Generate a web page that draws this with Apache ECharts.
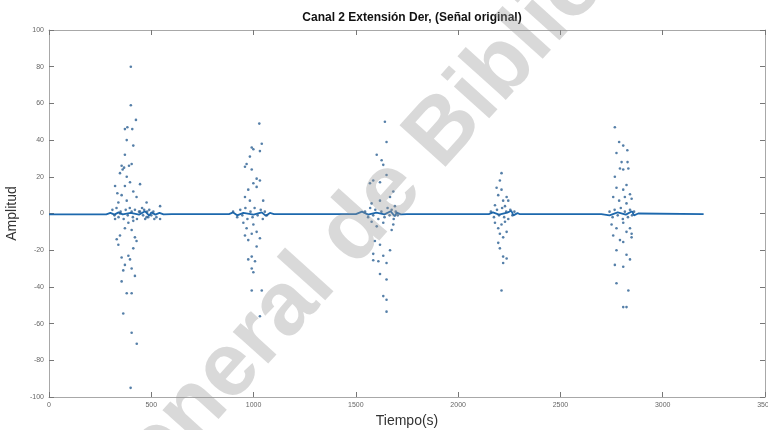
<!DOCTYPE html>
<html>
<head>
<meta charset="utf-8">
<script src="https://cdn.jsdelivr.net/npm/echarts@6/dist/echarts.min.js"></script>
<style>html,body{margin:0;padding:0;background:#fff}#c{width:768px;height:430px}</style>
</head>
<body>
<div id="c"></div>
<script>
// ---- data (time in s, amplitude) ----
const titleText = 'Canal 2 Extensión Der, (Señal original)';
const xName = 'Tiempo(s)';
const yName = 'Amplitud';
const xTicks = [0, 500, 1000, 1500, 2000, 2500, 3000, 3500];
const yTicks = [-100, -80, -60, -40, -20, 0, 20, 40, 60, 80, 100];

const lineT = [0,280,300,320,340,360,400,440,470,490,500,520,540,560,600,880,900,920,950,1000,1040,1060,1080,1100,1500,1530,1560,1600,1640,1670,1690,1700,1720,1750,2150,2170,2200,2240,2260,2270,2290,2300,2700,2740,2780,2820,2850,2860,2880,3200];
const lineV = [-0.5,-0.5,0.3,-0.6,0.6,-0.5,0.3,-0.6,1.2,-1.2,0.6,-0.6,0.3,-0.5,-0.3,-0.3,0.6,-1,0.3,-0.6,0.6,-1.2,0.3,-0.3,-0.3,1,-0.6,0.5,-0.5,1.2,-1.5,0.5,-0.5,-0.3,-0.3,0.6,-0.6,0.5,1.5,-1,0.2,-0.3,-0.3,-1,0.6,-0.6,1.2,-1,0,-0.3];

const burst1 = [[400,80],[400,59],[425,51],[371,46],[383,47],[407,46],[380,40],[412,37],[371,32],[355,26],[367,25],[391,26],[404,27],[347,22],[380,20],[360,24],[445,16],[371,15],[323,15],[396,17],[334,11],[355,10],[412,12],[428,9],[477,6],[339,6],[380,7],[543,4],
 [347,0],[404,1],[445,1],[477,-2],[323,-3],[388,-5],[412,-4],[371,-8],[404,-9],[347,-12],[420,-13],[331,-14],[428,-15],[339,-17],[412,-19],[388,-23],[355,-24],[396,-25],[371,-28],[404,-30],[420,-34],[363,-31],[355,-37],[380,-43.5],[404,-43.5],[363,-54.5],[404,-65],[429,-71],[399,-95],
 [310,2],[320,-1],[330,3],[340,-2],[350,1],[365,-3],[375,2],[385,-1],[395,3],[410,-2],[420,2],[430,-3],[440,1],[455,3],[460,-1],[465,2],[470,-3],[480,1],[485,-2],[490,2],[500,-1],[510,1],[515,-3],[525,-2],[543,-3]];
const burst2 = [[1028,49],[1040,38],[991,36],[999,35],[1031,34],[982,31],[966,27],[958,25.5],[991,24],[1015,19],[1031,18],[999,16.5],[974,13],[1015,14.5],[958,9],[982,7],[1047,7],
 [950,-5],[966,-8],[999,-6],[1015,-10],[958,-12],[991,-11],[1031,-13.5],[974,-14.5],[1015,-18],[991,-23.5],[974,-25],[1007,-26],[991,-30],[999,-32],[991,-42],[1040,-42],[1031,-56],
 [900,1],[920,-2],[935,2],[945,-1],[960,3],[970,-3],[985,1],[995,-2],[1005,3],[1020,-1],[1035,2],[1045,-3],[1055,1],[1065,-1]];
const burst3 = [[1642,50],[1650,39],[1626,29],[1634,26.5],[1602,32],[1585,18],[1618,17],[1569,16.5],[1650,21],[1683,12],[1667,9],[1577,5.5],[1618,7],[1691,4],
 [1577,-4.5],[1602,-7],[1634,-5],[1683,-6],[1675,-9],[1593,-15],[1618,-17],[1667,-20],[1585,-22],[1634,-23],[1610,-26],[1650,-27],[1618,-33],[1650,-36],[1585,-25.5],[1634,-45],[1650,-47],[1650,-53.5],
 [1545,1],[1560,-2],[1570,3],[1585,-1],[1595,2],[1610,-3],[1625,1],[1640,-2],[1655,3],[1665,-1],[1675,2],[1685,-3],[1695,1],[1705,-1]];
const burst4 = [[2212,22],[2204,18],[2188,14],[2212,13],[2237,9],[2220,7],[2196,10],[2245,7],[2180,4.5],[2229,4],
 [2180,-5],[2196,-8],[2212,-6],[2229,-4.5],[2204,-11],[2220,-13],[2237,-10],[2196,-16],[2204,-19],[2220,-23.5],[2237,-24.5],[2220,-27],[2212,-42],
 [2160,1],[2175,-2],[2190,2],[2200,-1],[2215,3],[2225,-2],[2235,1],[2245,-3],[2255,2],[2265,-1],[2275,1]];
const burst5 = [[2766,47],[2787,39],[2807,37],[2827,34.5],[2774,33],[2799,28],[2828,28],[2807,24],[2832,24.5],[2791,24.5],[2766,20],[2823,15.5],[2774,14],[2807,13],[2840,10.5],[2815,9],[2848,8],[2758,9],[2787,7],[2823,5.5],
 [2750,-6],[2774,-8],[2807,-5],[2840,-8],[2848,-11],[2758,-12],[2823,-10],[2791,-14.5],[2807,-15.5],[2848,-13],[2774,-20],[2823,-22.5],[2840,-25],[2766,-28],[2807,-29],[2774,-38],[2832,-42],[2807,-51],[2823,-51],
 [2740,1],[2755,-2],[2765,2],[2780,-1],[2795,3],[2805,-3],[2815,1],[2830,-2],[2840,2],[2850,-1],[2860,1]];

const watermark = 'General de Bibliotecas';

// ---- chart ----
const chart = echarts.init(document.getElementById('c'), null, {renderer: 'canvas'});
const axisCol = '#a8a8a8';
const labCol = '#666';
const font = 'Liberation Sans, Arial, sans-serif';
const xMin = xTicks[0], xMax = xTicks[xTicks.length-1], xInt = xTicks[1]-xTicks[0];
const yMin = yTicks[0], yMax = yTicks[yTicks.length-1], yInt = yTicks[1]-yTicks[0];
const baseAxis = (extra) => Object.assign({
  type: 'value', splitLine: {show: false},
  axisLine: {show: true, onZero: false, lineStyle: {color: axisCol, width: 1}},
  axisTick: {show: true, inside: true, length: 5, lineStyle: {color: '#777'}},
}, extra);
const points = [].concat(burst1, burst2, burst3, burst4, burst5);
const plain = v => String(v);

chart.setOption({
  animation: false,
  backgroundColor: '#fff',
  title: {
    text: titleText, left: 407, top: 7, textAlign: 'center',
    textStyle: {fontSize: 12, fontWeight: 'bold', color: '#111', fontFamily: font}
  },
  grid: {left: 49, right: 3, top: 30, bottom: 33, containLabel: false, outerBoundsMode: 'none'},
  xAxis: [
    baseAxis({position: 'bottom', min: xMin, max: xMax, interval: xInt,
      axisLabel: {fontSize: 7, color: labCol, margin: 5, fontFamily: font, formatter: plain},
      name: xName, nameLocation: 'middle', nameGap: 15,
      nameTextStyle: {fontSize: 14, color: '#333', fontFamily: font}}),
    baseAxis({position: 'top', min: xMin, max: xMax, interval: xInt, axisLabel: {show: false}})
  ],
  yAxis: [
    baseAxis({position: 'left', min: yMin, max: yMax, interval: yInt,
      axisLabel: {fontSize: 7, color: labCol, margin: 5, fontFamily: font, formatter: plain},
      name: yName, nameLocation: 'middle', nameGap: 24, nameRotate: 90,
      nameTextStyle: {fontSize: 14, color: '#333', fontFamily: font}}),
    baseAxis({position: 'right', min: yMin, max: yMax, interval: yInt, axisLabel: {show: false}})
  ],
  series: [
    {type: 'line', xAxisIndex: 0, yAxisIndex: 0, showSymbol: false,
     data: lineT.map((t, i) => [t, lineV[i]]),
     lineStyle: {color: '#1d68ad', width: 1.8}, z: 2},
    {type: 'scatter', xAxisIndex: 0, yAxisIndex: 0, symbol: 'circle', symbolSize: 2.6,
     data: points, itemStyle: {color: '#2b5f92'}, z: 3}
  ],
  graphic: [{
    type: 'text', x: 95, y: 519, rotation: 48 * Math.PI / 180, z: 100, silent: true,
    style: {text: watermark, fill: 'rgba(150,150,150,0.36)', fontSize: 90, fontWeight: 'bold',
      fontFamily: font, textAlign: 'left', textVerticalAlign: 'middle'}
  }]
});
</script>
</body>
</html>
